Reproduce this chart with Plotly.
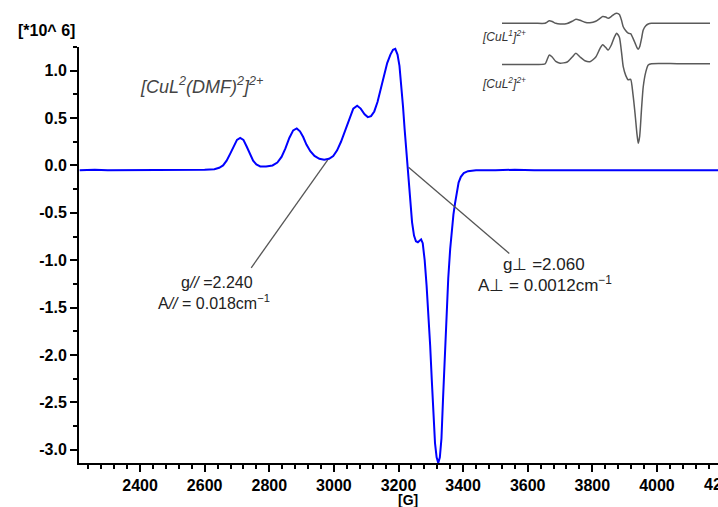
import plotly.graph_objects as go

# ---------------- data ----------------
FIELD_G = [2213, 2260, 2300, 2350, 2400, 2450, 2500, 2550, 2600, 2630, 2645, 2657, 2668, 2680, 2690,
           2700, 2710, 2720, 2730, 2740, 2750, 2760, 2772, 2790, 2810, 2825, 2838, 2850, 2862, 2874,
           2885, 2895, 2905, 2915, 2927, 2940, 2955, 2970, 2985, 2998, 3010, 3022, 3035, 3048, 3060,
           3072, 3083, 3095, 3105, 3115, 3125, 3135, 3145, 3155, 3165, 3175, 3183, 3190, 3197, 3203,
           3209, 3214, 3219, 3224, 3230, 3236, 3242, 3248, 3254, 3260, 3265, 3270, 3275, 3281, 3287,
           3293, 3298, 3303, 3308, 3313, 3318, 3323, 3328, 3333, 3338, 3344, 3349, 3354, 3360, 3365,
           3370, 3375, 3380, 3386, 3393, 3402, 3415, 3440, 3500, 3560, 3620, 3700, 3780, 3850, 3920,
           4000, 4080, 4150, 4189]
SIGNAL = [-0.05, -0.045, -0.05, -0.05, -0.045, -0.05, -0.045, -0.05, -0.045, -0.04, -0.025, 0.0, 0.05, 0.13, 0.21,
          0.27, 0.29, 0.27, 0.2, 0.12, 0.05, 0.01, -0.01, -0.01, 0.0, 0.03, 0.09, 0.18, 0.29, 0.37,
          0.39, 0.36, 0.3, 0.22, 0.15, 0.1, 0.07, 0.06, 0.07, 0.1, 0.16, 0.25, 0.37, 0.5, 0.6,
          0.63, 0.6, 0.54, 0.51, 0.52, 0.57, 0.67, 0.8, 0.95, 1.08, 1.17, 1.22, 1.23, 1.17, 1.05,
          0.85, 0.62, 0.38, 0.15, -0.1, -0.38, -0.6, -0.74, -0.8, -0.81, -0.79, -0.78, -0.82, -1.0, -1.27,
          -1.58, -1.9, -2.26, -2.6, -2.93, -3.08, -3.14, -3.08, -2.88, -2.45, -1.92, -1.5, -1.19, -0.88, -0.66,
          -0.52, -0.4, -0.28, -0.18, -0.12, -0.08, -0.06, -0.05, -0.05, -0.045, -0.05, -0.05, -0.045, -0.05, -0.05,
          -0.045, -0.05, -0.05, -0.05]

# inset spectra
INSET_G = [2374, 2600, 2675, 2690, 2705, 2725, 2750, 2780, 2830, 2865, 2891, 2920, 2954, 2989, 3030,
           3060, 3078, 3100, 3117, 3140, 3160, 3176, 3195, 3210, 3222, 3240, 3257, 3274, 3290, 3305,
           3318, 3327, 3337, 3350, 3362, 3380, 3397, 3420, 3600, 3829]
INSET_CUL1 = [0.0, 0.0, 0.0, 0.05, 0.1, 0.07, 0.0, -0.03, -0.01, 0.08, 0.16, 0.12, 0.04, 0.02, 0.08,
              0.2, 0.27, 0.25, 0.2, 0.28, 0.37, 0.4, 0.35, 0.12, -0.14, -0.3, -0.4, -0.42, -0.6, -0.8,
              -0.98, -1.05, -0.95, -0.62, -0.27, -0.1, -0.03, 0.0, 0.0, 0.0]
INSET_CUL2 = [0.0, 0.0, 0.02, 0.2, 0.38, 0.3, 0.12, 0.05, 0.1, 0.3, 0.45, 0.3, 0.15, 0.11, 0.3,
              0.65, 0.79, 0.68, 0.58, 0.8, 1.1, 1.26, 1.1, 0.5, -0.09, -0.45, -0.62, -0.6, -1.2, -2.0,
              -2.8, -3.18, -2.9, -1.8, -0.9, -0.3, -0.02, 0.03, 0.03, 0.03]
INSET_OFFSET = 1.66

# pointer lines (field G, signal) pairs
POINTER_PAR = [(2981, 0.06), (2744, -1.08)]
POINTER_PERP = [(3231, -0.02), (3543, -0.93)]

X_TICKS = [2400, 2600, 2800, 3000, 3200, 3400, 3600, 3800, 4000]
X_TICKTEXT = ["2400", "2600", "2800", "3000", "3200", "3400", "3600", "3800", "4000"]
Y_TICKS = [-3.0, -2.5, -2.0, -1.5, -1.0, -0.5, 0.0, 0.5, 1.0]
Y_TICKTEXT = ["-3.0", "-2.5", "-2.0", "-1.5", "-1.0", "-0.5", "0.0", "0.5", "1.0"]
X_RANGE = [2211, 4189]
Y_RANGE = [-3.14, 1.25]

# ---------------- figure ----------------
W, H = 718, 507
ML, MR, MT, MB = 79, 0, 10, 44
plot_w = W - ML - MR
plot_h = H - MT - MB
main_top = (463 - 47) / plot_h


def px(xp):
    return (xp - ML) / plot_w


def py(yp):
    return (H - MB - yp) / plot_h


fig = go.Figure()
fig.add_trace(go.Scatter(x=FIELD_G, y=SIGNAL, mode="lines",
                         line=dict(color="#0000ff", width=2), xaxis="x", yaxis="y",
                         showlegend=False, hoverinfo="skip"))
fig.add_trace(go.Scatter(x=INSET_G, y=[v + INSET_OFFSET for v in INSET_CUL1], mode="lines",
                         line=dict(color="#5a5a5a", width=1.5, shape="spline", smoothing=0.6),
                         xaxis="x2", yaxis="y2", showlegend=False, hoverinfo="skip"))
fig.add_trace(go.Scatter(x=INSET_G, y=INSET_CUL2, mode="lines",
                         line=dict(color="#5a5a5a", width=1.5, shape="spline", smoothing=0.6),
                         xaxis="x2", yaxis="y2", showlegend=False, hoverinfo="skip"))

tickfont = dict(family="Liberation Sans, Arial", size=16, color="black", weight="bold")

fig.update_layout(
    width=W, height=H,
    margin=dict(l=ML, r=MR, t=MT, b=MB, pad=0),
    paper_bgcolor="white", plot_bgcolor="white",
    xaxis=dict(range=X_RANGE, domain=[0, 1], anchor="y",
               tickmode="array", tickvals=X_TICKS, ticktext=X_TICKTEXT,
               ticks="outside", ticklen=7, tickwidth=1.5, tickcolor="black",
               showline=True, linecolor="black", linewidth=2,
               showgrid=False, zeroline=False, tickfont=tickfont,
               minor=dict(tickmode="linear", tick0=2200, dtick=40, ticks="outside",
                          ticklen=4, tickwidth=1.5, tickcolor="black", showgrid=False)),
    yaxis=dict(range=Y_RANGE, domain=[0, main_top], anchor="x",
               tickmode="array", tickvals=Y_TICKS, ticktext=Y_TICKTEXT,
               ticks="outside", ticklen=7, tickwidth=1.5, tickcolor="black",
               showline=True, linecolor="black", linewidth=2,
               showgrid=False, zeroline=False, tickfont=tickfont,
               minor=dict(tickmode="linear", tick0=0, dtick=0.25, ticks="outside",
                          ticklen=4, tickwidth=1.5, tickcolor="black", showgrid=False)),
    xaxis2=dict(range=[2374, 3829], domain=[px(502), px(710)],
                anchor="y2", visible=False),
    yaxis2=dict(range=[-3.45, 2.195], domain=[py(150), 1.0],
                anchor="x2", visible=False),
)

# pointer lines
for pts in (POINTER_PAR, POINTER_PERP):
    fig.add_shape(type="line", xref="x", yref="y",
                  x0=pts[0][0], y0=pts[0][1], x1=pts[1][0], y1=pts[1][1],
                  line=dict(color="#555555", width=1.3))


def label(xp, yp, text, font, xanchor="center"):
    fig.add_annotation(x=px(xp), y=py(yp), xref="paper", yref="paper",
                       xanchor=xanchor, yanchor="middle", showarrow=False,
                       text=text, font=font)


txt_font = dict(family="Liberation Sans, Arial", size=16, color="#222222")
txt_font2 = dict(family="Liberation Sans, Arial", size=17, color="#222222")
label(217, 282, "g<i>//</i> =2.240", txt_font)
label(214, 302, "A<i>//</i> = 0.018cm<sup>−1</sup>", txt_font)
label(544, 264, "g⊥ =2.060", txt_font2)
label(545, 284, "A⊥ = 0.0012cm<sup>−1</sup>", txt_font2)
label(201, 86, "<i>[CuL<sup>2</sup>(DMF)<sup>2</sup>]<sup>2+</sup></i>",
      dict(family="Liberation Sans, Arial", size=18, color="#444444"))

# inset labels
inset_font = dict(family="Liberation Sans, Arial", size=12, color="#333333")
label(504, 36, "<i>[CuL<sup>1</sup>]<sup>2+</sup></i>", inset_font)
label(504, 83, "<i>[CuL<sup>2</sup>]<sup>2+</sup></i>", inset_font)

# axis titles
bold16 = dict(family="Liberation Sans, Arial", size=16, color="black", weight="bold")
label(46.5, 30, "[*10^ 6]", bold16)
label(408, 500, "[G]", dict(family="Liberation Sans, Arial", size=14, color="black", weight="bold"))
# partially visible last tick label (4200), cut by the right edge as in the reference
label(702, 484, "4200", tickfont, xanchor="left")

fig.write_html("out.html", config={"displayModeBar": False},
               post_script="document.body.style.margin='0';document.body.style.overflow='hidden';")
